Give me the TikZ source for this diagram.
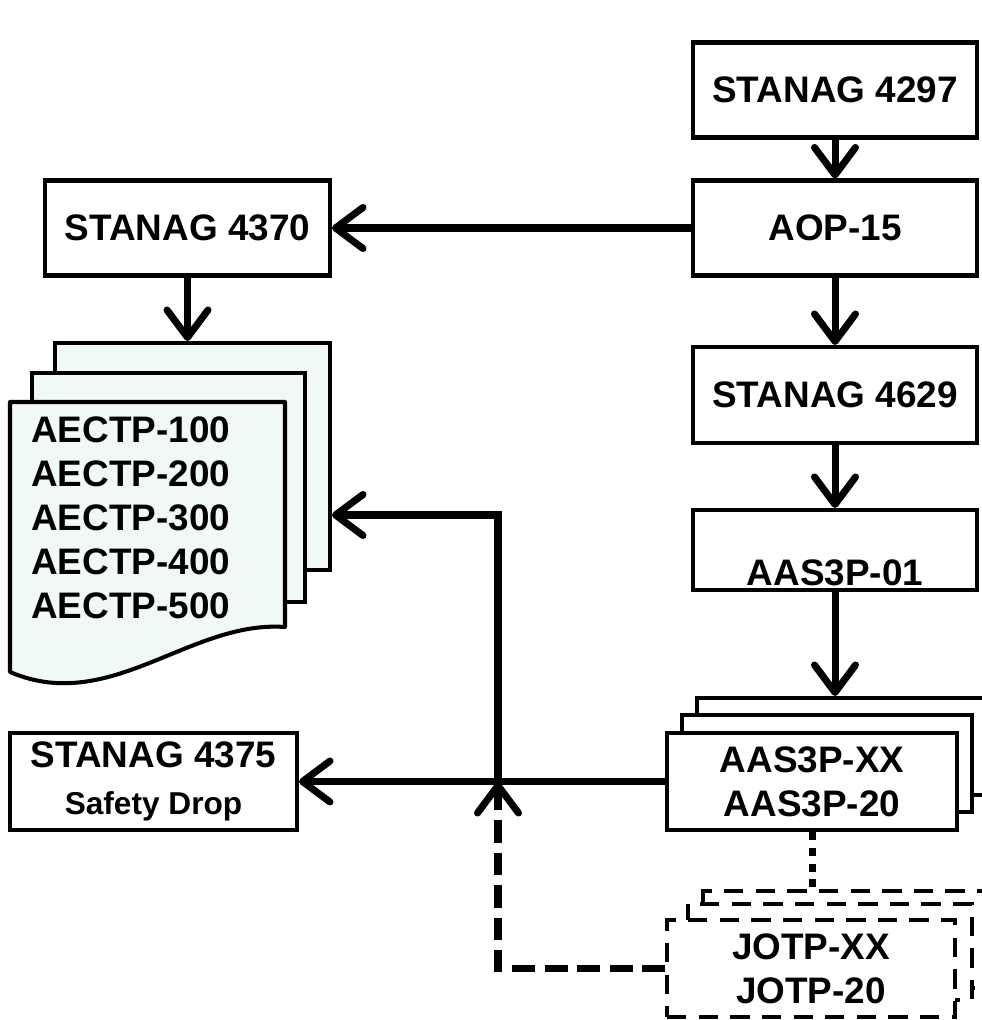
\documentclass[tikz,border=0pt]{standalone}
\usepackage{fontspec}
\setmainfont{Liberation Sans}
\usetikzlibrary{arrows.meta,positioning,calc}
\definecolor{sheetfill}{HTML}{F0F8F8}

\tikzset{
  stdbox/.style={draw, line width=2.3pt, fill=white, inner sep=0pt, align=center,
    minimum width=5.7cm, minimum height=1.9cm, font=\bfseries\fontsize{21}{25}\selectfont},
  sheet/.style={stdbox, fill=sheetfill},
  plan/.style={stdbox, dash pattern=on 11pt off 7pt},
  link/.style={line width=4pt, -{Straight Barb[length=0.55cm, width=0.82cm, round]}},
  planlink/.style={link, dash pattern=on 13pt off 5.5pt},
  tie/.style={line width=4pt, dash pattern=on 4.5pt off 4.5pt}
}

\begin{document}
\begin{tikzpicture}[x=0.02cm, y=-0.02cm]
  \useasboundingbox (0,0) rectangle (981,1020);

  % right column
  \node[stdbox, minimum width=5.68cm] (s4297) at (835,90) {STANAG 4297};
  \node[stdbox, minimum width=5.68cm] (aop15) at (835,228) {AOP-15};
  \node[stdbox, minimum width=5.68cm, minimum height=1.92cm] (s4629) at (835,395) {STANAG 4629};
  \node[stdbox, minimum width=5.68cm, minimum height=1.6cm] (aas01) at (835,550) {};
  \node[font=\bfseries\fontsize{21}{25}\selectfont, anchor=base] (aas01txt) at (835,585) {AAS3P-01};

  % AAS3P stack
  \node[stdbox, minimum width=5.8cm, minimum height=1.94cm] (aasC) at (842,746.5) {};
  \node[stdbox, minimum width=5.8cm, minimum height=1.94cm] (aasB) at (827,763.5) {};
  \node[stdbox, minimum width=5.8cm, minimum height=1.94cm] (aasA) at (812,781.5) {AAS3P-XX\\AAS3P-20};

  % JOTP stack
  \node[plan, minimum width=5.76cm, minimum height=1.94cm] (jotpC) at (847,939.5) {};
  \node[plan, minimum width=5.68cm, minimum height=1.92cm] (jotpB) at (830,952) {};
  \node[plan, minimum width=5.76cm, minimum height=1.94cm] (jotpA) at (811,968.5) {JOTP-XX\\JOTP-20};

  % left column
  \node[stdbox] (s4370) at (187.5,228) {STANAG 4370};
  \node[stdbox, minimum width=5.74cm, minimum height=1.94cm] (s4375) at (153.5,781.5)
    {STANAG 4375\\[2pt]{\fontsize{18}{22}\selectfont Safety Drop}};

  % AECTP document stack
  \node[sheet, minimum width=5.5cm, minimum height=4.54cm] (sheetC) at (192.5,456.5) {};
  \node[sheet, minimum width=5.46cm, minimum height=4.58cm] (sheetB) at (168.5,487.5) {};
  \draw[line width=2.3pt, fill=sheetfill, line join=round]
    (10,402) -- (285,402) -- (285,627)
    .. controls (190,620) and (110,715) .. (10,672) -- cycle;
  \node[font=\bfseries\fontsize{21}{25}\selectfont, align=left, anchor=west, inner sep=0pt] (aectp) at (31,518)
    {AECTP-100\\AECTP-200\\AECTP-300\\AECTP-400\\AECTP-500};

  % connectors
  \draw[link] (s4297) -- (aop15);
  \draw[link] (aop15) -- (s4629);
  \draw[link] (s4629) -- (aas01);
  \draw[link] (aas01.south) -- (aas01.south |- aasC.north);
  \draw[link] (aop15.west) -- (s4370.east);
  \draw[link] (s4370.south) -- (s4370.south |- sheetC.north);
  \coordinate (jn) at (498,782);
  \draw[link] (aasA.west) -- (s4375.east);
  \draw[link] (jn) |- ($(sheetC.east)+(0,58.5)$);
  \draw[planlink] (jotpA.west) -| (jn);
  \draw[tie] (aasA.south) -- (aasA.south |- jotpC.north);
\end{tikzpicture}
\end{document}
